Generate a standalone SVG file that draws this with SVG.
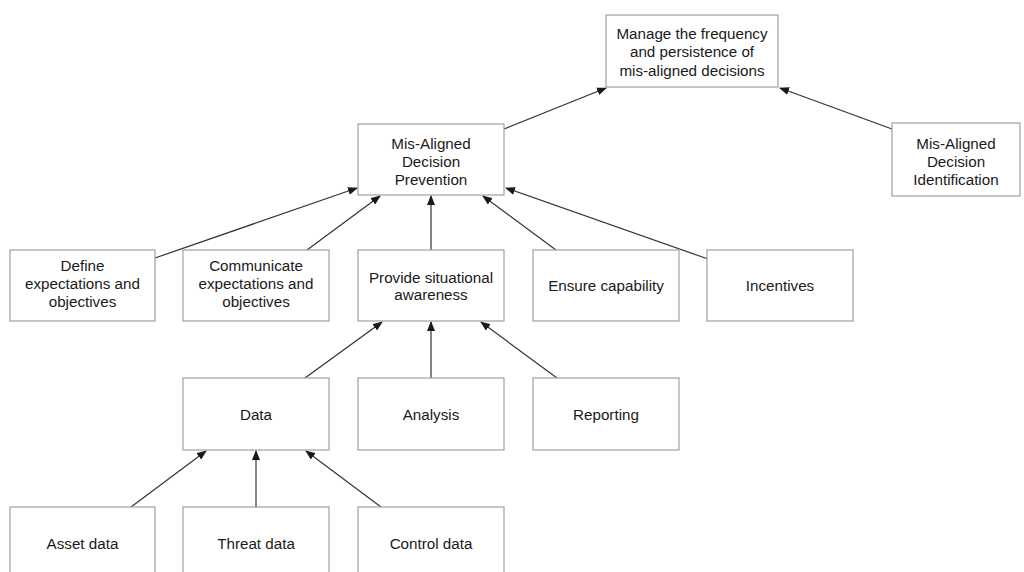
<svg xmlns="http://www.w3.org/2000/svg" width="1024" height="572" viewBox="0 0 1024 572">
<defs>
<marker id="arr" markerUnits="userSpaceOnUse" markerWidth="10" markerHeight="8" refX="9" refY="4" orient="auto">
<path d="M0,0 L10,4 L0,8 Z" fill="#1a1a1a"/>
</marker>
<style>
.box{fill:#fff;stroke:#a0a0a0;stroke-width:1.2}
.t{font-family:"Liberation Sans",Arial,Helvetica,sans-serif;font-size:15.2px;fill:#1a1a1a;text-anchor:middle}
.c{stroke:#333;stroke-width:1.2;fill:none;marker-end:url(#arr)}
</style>
</defs>
<rect width="1024" height="572" fill="#fff"/>
<g id="connectors">
<line class="c" x1="504" y1="129" x2="606" y2="88"/>
<line class="c" x1="892" y1="129" x2="780" y2="88"/>
<line class="c" x1="155" y1="258" x2="357" y2="188"/>
<line class="c" x1="307" y1="250" x2="380" y2="196"/>
<line class="c" x1="431" y1="250" x2="431" y2="196"/>
<line class="c" x1="556" y1="250" x2="483" y2="196"/>
<line class="c" x1="708" y1="259" x2="506" y2="188"/>
<line class="c" x1="305" y1="378" x2="382" y2="322"/>
<line class="c" x1="431" y1="378" x2="431" y2="322"/>
<line class="c" x1="557" y1="378" x2="481" y2="322"/>
<line class="c" x1="131" y1="507" x2="206" y2="451"/>
<line class="c" x1="256" y1="507" x2="256" y2="451"/>
<line class="c" x1="381" y1="507" x2="306" y2="451"/>
</g>
<g id="n-top"><rect class="box" x="606" y="15" width="172" height="72"/>
<text class="t" x="692" y="38.5">Manage the frequency<tspan x="692" dy="18.5">and persistence of</tspan><tspan x="692" dy="18.5">mis-aligned decisions</tspan></text></g>
<g id="n-prevention"><rect class="box" x="358" y="124" width="146" height="71"/>
<text class="t" x="431" y="148.5">Mis-Aligned<tspan x="431" dy="18">Decision</tspan><tspan x="431" dy="18">Prevention</tspan></text></g>
<g id="n-identification"><rect class="box" x="892" y="123" width="128" height="73"/>
<text class="t" x="956" y="148.5">Mis-Aligned<tspan x="956" dy="18">Decision</tspan><tspan x="956" dy="18">Identification</tspan></text></g>
<g id="n-define"><rect class="box" x="10" y="250" width="145" height="71"/>
<text class="t" x="82.5" y="270.5">Define<tspan x="82.5" dy="18">expectations and</tspan><tspan x="82.5" dy="18">objectives</tspan></text></g>
<g id="n-communicate"><rect class="box" x="183" y="250" width="146" height="71"/>
<text class="t" x="256" y="270.5">Communicate<tspan x="256" dy="18">expectations and</tspan><tspan x="256" dy="18">objectives</tspan></text></g>
<g id="n-provide"><rect class="box" x="358" y="250" width="146" height="71"/>
<text class="t" x="431" y="282.5">Provide situational<tspan x="431" dy="17.5">awareness</tspan></text></g>
<g id="n-ensure"><rect class="box" x="533" y="250" width="146" height="71"/>
<text class="t" x="606" y="291">Ensure capability</text></g>
<g id="n-incentives"><rect class="box" x="707" y="250" width="146" height="71"/>
<text class="t" x="780" y="291">Incentives</text></g>
<g id="n-data"><rect class="box" x="183" y="378" width="146" height="72"/>
<text class="t" x="256" y="419.5">Data</text></g>
<g id="n-analysis"><rect class="box" x="358" y="378" width="146" height="72"/>
<text class="t" x="431" y="419.5">Analysis</text></g>
<g id="n-reporting"><rect class="box" x="533" y="378" width="146" height="72"/>
<text class="t" x="606" y="419.5">Reporting</text></g>
<g id="n-asset"><rect class="box" x="10" y="507" width="145" height="72"/>
<text class="t" x="82.5" y="548.5">Asset data</text></g>
<g id="n-threat"><rect class="box" x="183" y="507" width="146" height="72"/>
<text class="t" x="256" y="548.5">Threat data</text></g>
<g id="n-control"><rect class="box" x="358" y="507" width="146" height="72"/>
<text class="t" x="431" y="548.5">Control data</text></g>
</svg>
